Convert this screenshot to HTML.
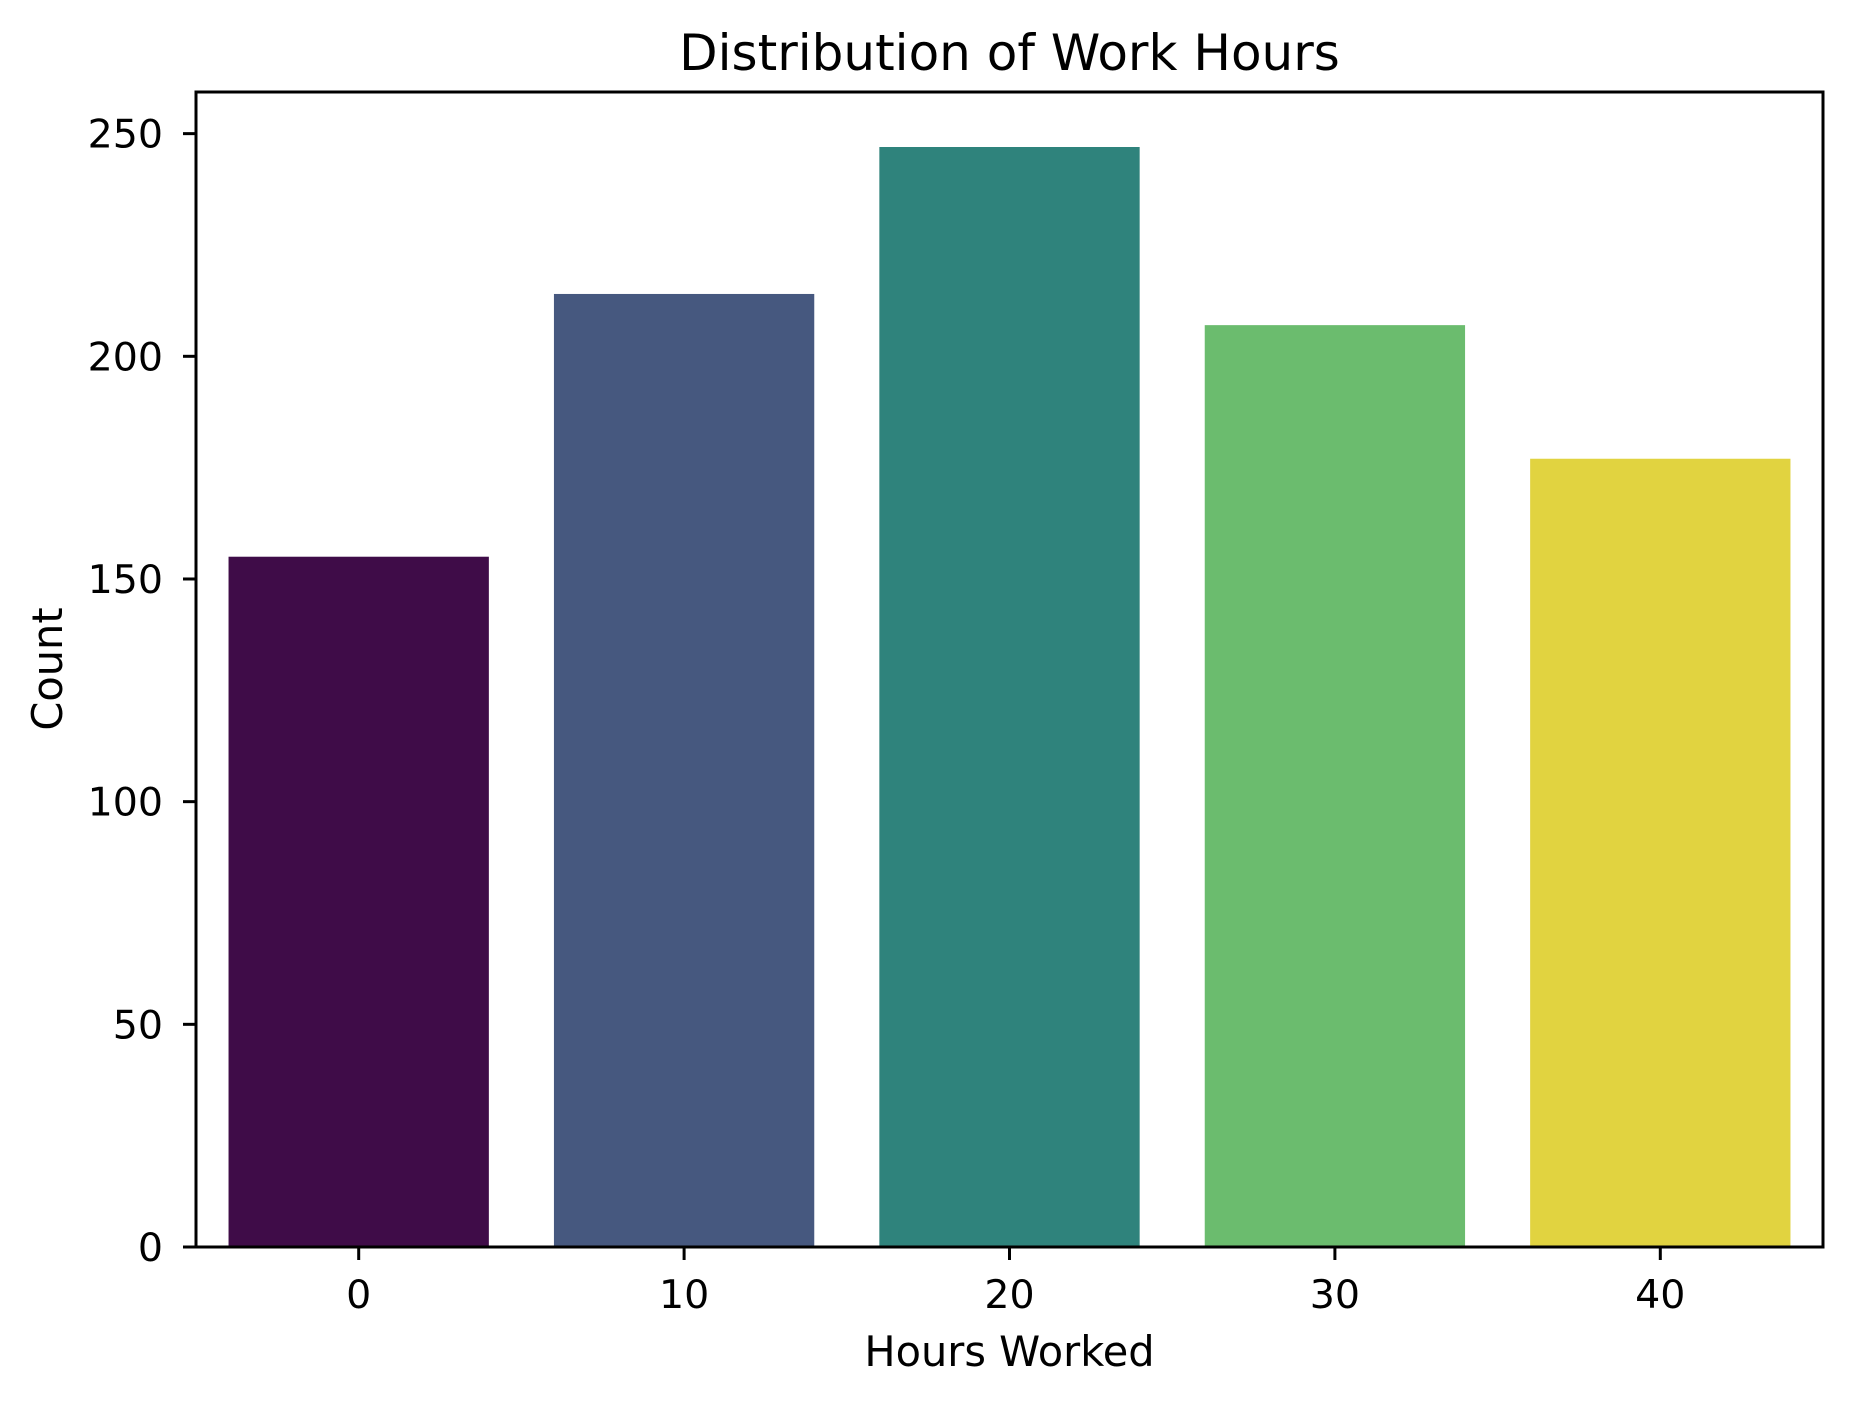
<!DOCTYPE html>
<html><head><meta charset="utf-8"><style>html,body{margin:0;padding:0;background:#fff}svg{display:block}text{font-family:"DejaVu Sans","Liberation Sans",sans-serif;fill:#000}</style></head>
<body>
<svg id="chart" width="1852" height="1403" viewBox="0 0 1852 1403" xmlns="http://www.w3.org/2000/svg">
<rect width="1852" height="1403" fill="#fff"/>
<g id="bars"></g>
<g id="axes"></g>
<text x="1009.5" y="70" font-size="50" text-anchor="middle">Distribution of Work Hours</text>
<text x="1009.5" y="1366" font-size="41.5" text-anchor="middle">Hours Worked</text>
<text transform="translate(62,669) rotate(-90)" font-size="41.5" text-anchor="middle">Count</text>
</svg>
<script>
const categories = ["0", "10", "20", "30", "40"];
const counts = [155, 214, 247, 207, 177];
const colors = ["#3f0c48", "#46587f", "#2f837c", "#6bbc6e", "#e1d340"];
const yTicks = [0, 50, 100, 150, 200, 250];

const L = 196, R = 1823, T = 92, B = 1247;
const ymax = Math.max(...counts) * 1.05;
const xs = i => L + (i + 0.5) / categories.length * (R - L);
const ys = v => B - v / ymax * (B - T);
const ns = "http://www.w3.org/2000/svg";
const bars = document.getElementById('bars');
const axes = document.getElementById('axes');
const bw = 0.8 / categories.length * (R - L);
function mk(tag, attrs, parent) {
  const e = document.createElementNS(ns, tag);
  for (const k in attrs) e.setAttribute(k, attrs[k]);
  parent.appendChild(e);
  return e;
}
counts.forEach((v, i) => {
  const r = mk('rect', {x: xs(i) - bw / 2, y: ys(v), width: bw, height: B - ys(v), fill: colors[i]}, bars);
  
  
});
const frame = mk('rect', {x: L, y: T, width: R - L, height: B - T, fill: 'none', stroke: '#000', 'stroke-width': 3}, axes);


yTicks.forEach(t => {
  const y = ys(t);
  const ln = mk('line', {x1: L - 13, x2: L, y1: y, y2: y, stroke: '#000', 'stroke-width': 3}, axes);
  
  
  const tx = mk('text', {x: L - 33, y: y + 14, 'font-size': 39.5, 'text-anchor': 'end'}, axes);
  tx.textContent = t;
  
  
});
categories.forEach((c, i) => {
  const x = xs(i);
  const ln = mk('line', {x1: x, x2: x, y1: B, y2: B + 13, stroke: '#000', 'stroke-width': 3}, axes);
  
  
  const tx = mk('text', {x: x, y: 1308, 'font-size': 39.5, 'text-anchor': 'middle'}, axes);
  tx.textContent = c;
  
  
});
</script>
</body></html>
